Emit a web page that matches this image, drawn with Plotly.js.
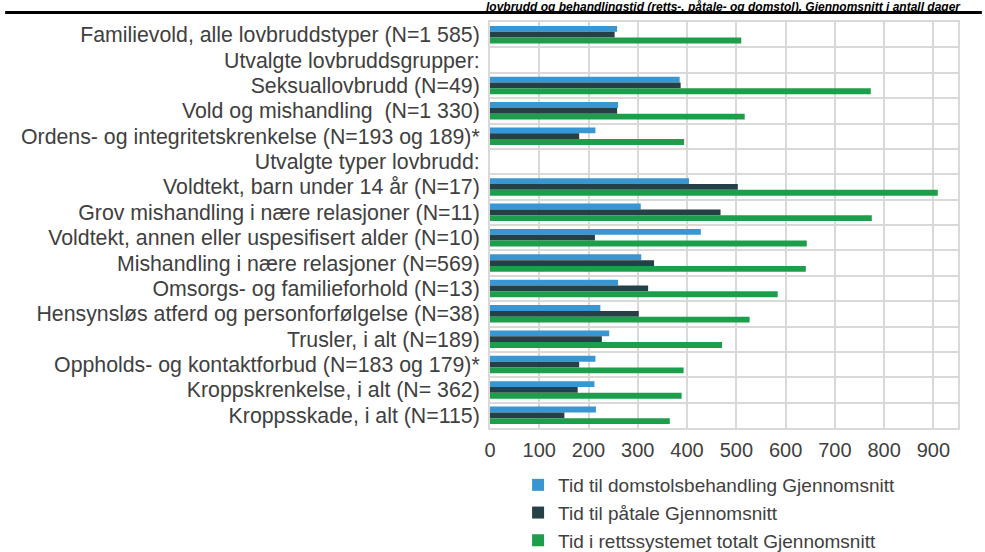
<!DOCTYPE html>
<html>
<head>
<meta charset="utf-8">
<script src="https://cdn.plot.ly/plotly-3.0.1.min.js"></script>
<style>
html,body{margin:0;padding:0;background:#fff;}
#chart{width:985px;height:552px;}
</style>
</head>
<body>
<div id="chart"></div>
<script>
// Categories, top to bottom
const categories = [
  "Familievold, alle lovbruddstyper (N=1 585)",
  "Utvalgte lovbruddsgrupper:",
  "Seksuallovbrudd (N=49)",
  "Vold og mishandling\u00a0 (N=1 330)",
  "Ordens- og integritetskrenkelse (N=193 og 189)*",
  "Utvalgte typer lovbrudd:",
  "Voldtekt, barn under 14 år (N=17)",
  "Grov mishandling i nære relasjoner (N=11)",
  "Voldtekt, annen eller uspesifisert alder (N=10)",
  "Mishandling i nære relasjoner (N=569)",
  "Omsorgs- og familieforhold (N=13)",
  "Hensynsløs atferd og personforfølgelse (N=38)",
  "Trusler, i alt (N=189)",
  "Oppholds- og kontaktforbud (N=183 og 179)*",
  "Kroppskrenkelse, i alt (N= 362)",
  "Kroppsskade, i alt (N=115)"
];

// Series values (days), null for header rows
const domstol = [258, null, 385, 260, 214, null, 404, 306, 428, 307, 260, 224, 242, 214, 212, 215];
const paatale = [253, null, 387, 258, 181, null, 503, 468, 213, 333, 321, 302, 227, 181, 178, 151];
const totalt  = [510, null, 773, 517, 394, null, 909, 775, 643, 641, 584, 527, 471, 393, 389, 365];

const seriesNames = [
  "Tid til domstolsbehandling Gjennomsnitt",
  "Tid til påtale Gjennomsnitt",
  "Tid i rettssystemet totalt Gjennomsnitt"
];
const xTicks = [0, 100, 200, 300, 400, 500, 600, 700, 800, 900];
const titleText = "lovbrudd og behandlingstid (retts-, påtale- og domstol). Gjennomsnitt i antall dager";

const colors = ["#3896d3", "#264047", "#1d9e4a"];
const seriesVals = [domstol, paatale, totalt];

const traces = seriesVals.map((vals, i) => ({
  type: "bar",
  orientation: "h",
  name: seriesNames[i],
  x: vals,
  y: categories,
  marker: {color: colors[i], line: {width: 0}},
  hoverinfo: "x+name"
}));

const font = {family: "Liberation Sans, Arial, sans-serif", size: 21, color: "#404040"};

const layout = {
  width: 985,
  height: 552,
  margin: {l: 490, r: 27, t: 22, b: 124, pad: 0, autoexpand: false},
  paper_bgcolor: "#ffffff",
  plot_bgcolor: "#ffffff",
  font: font,
  barmode: "group",
  bargap: 0.31,
  bargroupgap: 0,
  showlegend: true,
  legend: {
    orientation: "v",
    x: 0.06, xanchor: "left",
    y: -0.0936, yanchor: "top",
    traceorder: "normal",
    font: {family: font.family, size: 19, color: "#404040"},
    bgcolor: "rgba(0,0,0,0)",
    tracegroupgap: 0
  },
  xaxis: {
    range: [0, 950],
    tickvals: xTicks,
    ticktext: xTicks.map(String),
    showgrid: true,
    gridcolor: "#d9d9d9",
    gridwidth: 2,
    zeroline: false,
    showline: true,
    mirror: true,
    linecolor: "#d9d9d9",
    linewidth: 2,
    ticks: "",
    ticklabelstandoff: 3,
    automargin: false,
    tickfont: {family: font.family, size: 20, color: "#404040"},
    fixedrange: true
  },
  yaxis: {
    type: "category",
    categoryorder: "array",
    categoryarray: categories,
    autorange: "reversed",
    tickmode: "linear",
    tick0: 0,
    dtick: 1,
    tickson: "boundaries",
    showgrid: true,
    gridcolor: "#d9d9d9",
    gridwidth: 2,
    zeroline: false,
    showline: true,
    mirror: true,
    linecolor: "#d9d9d9",
    linewidth: 2,
    ticks: "",
    ticklabelstandoff: 4,
    automargin: false,
    tickfont: {family: font.family, size: 21.3, color: "#404040"},
    fixedrange: true
  },
  annotations: [{
    text: "<b><i>" + titleText + "</i></b>",
    xref: "paper", yref: "paper",
    x: 1.0085, xanchor: "right",
    y: 1.0567, yanchor: "top",
    showarrow: false,
    borderpad: 0,
    font: {family: "Liberation Sans, Arial, sans-serif", size: 12, color: "#000000"}
  }],
  shapes: [{
    type: "line",
    xref: "paper", yref: "paper",
    x0: -1.036, x1: 1.051,
    y0: 1.0234, y1: 1.0234,
    line: {color: "#000000", width: 3}
  }]
};

Plotly.newPlot("chart", traces, layout, {displayModeBar: false, staticPlot: true});
</script>
</body>
</html>
